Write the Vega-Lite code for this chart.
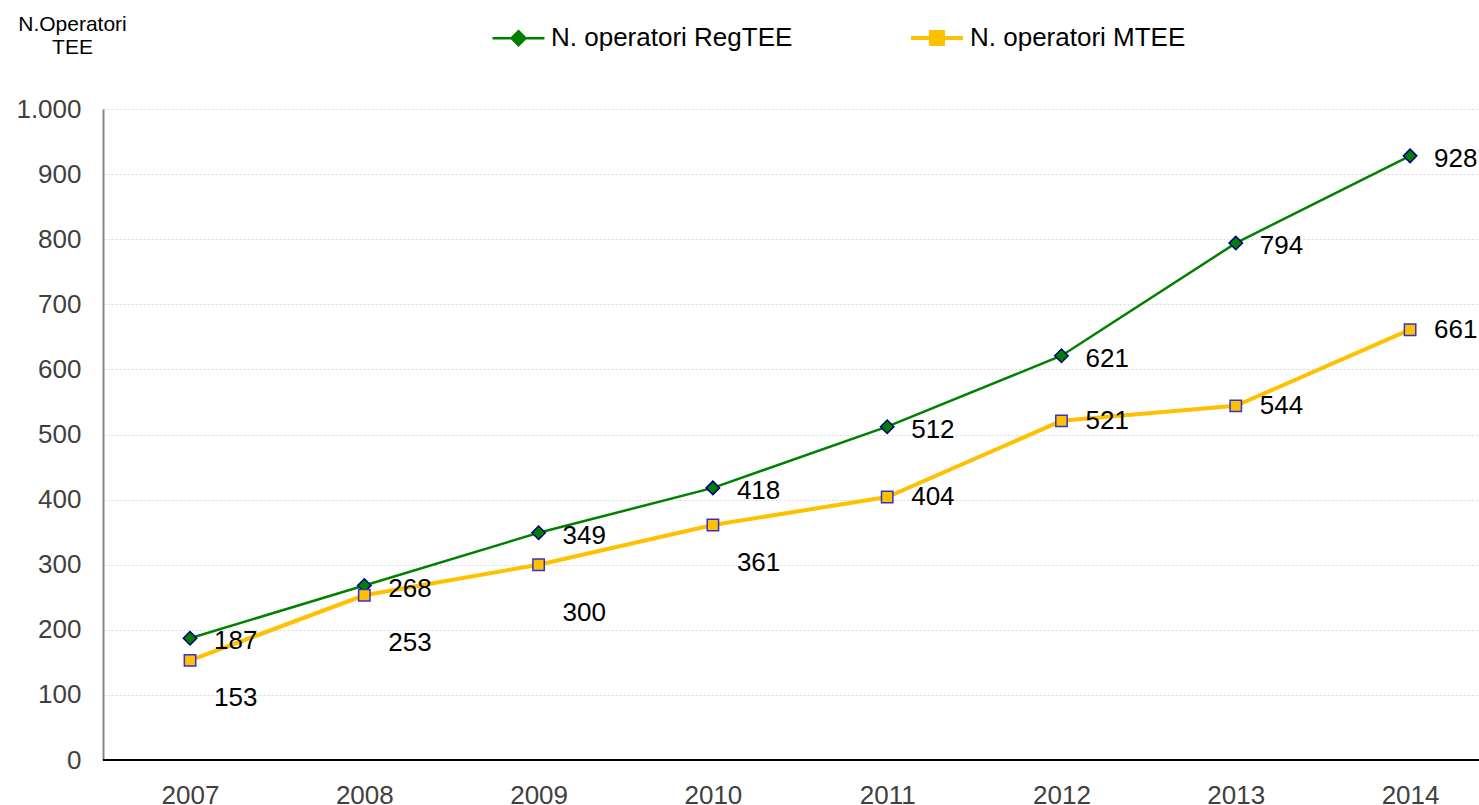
{
  "$schema": "https://vega.github.io/schema/vega-lite/v6.json",
  "autosize": "none",
  "width": 1376,
  "height": 651,
  "padding": {"left": 103, "top": 109, "right": 0, "bottom": 45},
  "background": "white",
  "config": {
    "font": "Liberation Sans",
    "locale": {"number": {"decimal": ",", "thousands": ".", "grouping": [3], "currency": ["", " €"]}},
    "view": {"stroke": null}
  },
  "data": {
    "values": [
      {"year": "2007", "series": "N. operatori RegTEE", "value": 187},
      {"year": "2008", "series": "N. operatori RegTEE", "value": 268},
      {"year": "2009", "series": "N. operatori RegTEE", "value": 349},
      {"year": "2010", "series": "N. operatori RegTEE", "value": 418},
      {"year": "2011", "series": "N. operatori RegTEE", "value": 512},
      {"year": "2012", "series": "N. operatori RegTEE", "value": 621},
      {"year": "2013", "series": "N. operatori RegTEE", "value": 794},
      {"year": "2014", "series": "N. operatori RegTEE", "value": 928},
      {"year": "2007", "series": "N. operatori MTEE", "value": 153},
      {"year": "2008", "series": "N. operatori MTEE", "value": 253},
      {"year": "2009", "series": "N. operatori MTEE", "value": 300},
      {"year": "2010", "series": "N. operatori MTEE", "value": 361},
      {"year": "2011", "series": "N. operatori MTEE", "value": 404},
      {"year": "2012", "series": "N. operatori MTEE", "value": 521},
      {"year": "2013", "series": "N. operatori MTEE", "value": 544},
      {"year": "2014", "series": "N. operatori MTEE", "value": 661}
    ]
  },
  "layer": [
    {
      "encoding": {
        "x": {
          "field": "year", "type": "ordinal",
          "scale": {"type": "point", "padding": 0.4474, "align": 0.558},
          "axis": {"title": null, "labelAngle": 0, "labelFontSize": 26, "labelColor": "#404040", "labelPadding": 22, "ticks": false, "domain": false, "grid": false}
        },
        "y": {
          "field": "value", "type": "quantitative",
          "scale": {"domain": [0, 1000], "nice": false},
          "axis": {
            "title": ["N.Operatori", "TEE"], "titleAngle": 0, "titleAlign": "center", "titleBaseline": "alphabetic",
            "titleX": -31, "titleY": -79, "titleFontSize": 21, "titleFontWeight": "normal", "titleColor": "black", "titleLineHeight": 23,
            "values": [0, 100, 200, 300, 400, 500, 600, 700, 800, 900, 1000],
            "format": ",d", "labelFontSize": 26, "labelColor": "#404040", "labelPadding": 22, "ticks": false,
            "domainColor": "#868686", "domainWidth": 2, "grid": true, "gridColor": "#d9d9d9", "gridDash": [2, 2]
          }
        }
      },
      "layer": [
        {
          "mark": {"type": "line"},
          "encoding": {
            "color": {
              "field": "series", "type": "nominal",
              "scale": {"domain": ["N. operatori RegTEE", "N. operatori MTEE"], "range": ["#008000", "#FFC000"]},
              "legend": {
                "orient": "none", "legendX": 388, "legendY": -99, "direction": "horizontal", "title": null,
                "symbolSize": 2704, "symbolStrokeWidth": 3, "labelFontSize": 26, "labelFont": "Liberation Sans",
                "labelColor": "black", "columnPadding": 110, "labelOffset": 5, "labelLimit": 500,
                "encode": {
                  "symbols": {
                    "update": {
                      "shape": {"signal": "datum.value === 'N. operatori RegTEE' ? 'M-1,0H1M0,-0.27L0.27,0L0,0.27L-0.27,0Z' : 'M-1,0H1M-0.23,-0.23H0.23V0.23H-0.23Z'"},
                      "fill": {"signal": "datum.value === 'N. operatori RegTEE' ? '#008000' : '#FFC000'"},
                      "strokeWidth": {"signal": "datum.value === 'N. operatori RegTEE' ? 3 : 4"}
                    }
                  }
                }
              }
            },
            "strokeWidth": {
              "field": "series", "type": "ordinal",
              "scale": {"domain": ["N. operatori RegTEE", "N. operatori MTEE"], "range": [2.5, 4]},
              "legend": null
            }
          }
        },
        {
          "transform": [{"filter": "datum.series === 'N. operatori RegTEE'"}],
          "mark": {"type": "point", "shape": "diamond", "filled": true, "fill": "#008000", "stroke": "#000080", "strokeWidth": 1.5, "size": 180, "opacity": 1}
        },
        {
          "transform": [{"filter": "datum.series === 'N. operatori MTEE'"}],
          "mark": {"type": "point", "shape": "square", "filled": true, "fill": "#FFC000", "stroke": "#3333CC", "strokeWidth": 1.5, "size": 130, "opacity": 1}
        },
        {
          "transform": [{"filter": "datum.series === 'N. operatori RegTEE'"}],
          "mark": {"type": "text", "align": "left", "baseline": "middle", "dx": 24, "dy": 3, "fontSize": 26, "color": "black"},
          "encoding": {"text": {"field": "value", "type": "quantitative"}}
        },
        {
          "transform": [{"filter": "datum.series === 'N. operatori MTEE' && (datum.year === '2007' || datum.year === '2010')"}],
          "mark": {"type": "text", "align": "left", "baseline": "middle", "dx": 24, "dy": 38, "fontSize": 26, "color": "black"},
          "encoding": {"text": {"field": "value", "type": "quantitative"}}
        },
        {
          "transform": [{"filter": "datum.series === 'N. operatori MTEE' && (datum.year === '2008' || datum.year === '2009')"}],
          "mark": {"type": "text", "align": "left", "baseline": "middle", "dx": 24, "dy": 48, "fontSize": 26, "color": "black"},
          "encoding": {"text": {"field": "value", "type": "quantitative"}}
        },
        {
          "transform": [{"filter": "datum.series === 'N. operatori MTEE' && datum.year >= '2011'"}],
          "mark": {"type": "text", "align": "left", "baseline": "middle", "dx": 24, "dy": 0, "fontSize": 26, "color": "black"},
          "encoding": {"text": {"field": "value", "type": "quantitative"}}
        }
      ]
    },
    {
      "mark": {"type": "rule", "color": "black", "strokeWidth": 2},
      "encoding": {"y": {"datum": 0, "type": "quantitative"}}
    }
  ]
}
